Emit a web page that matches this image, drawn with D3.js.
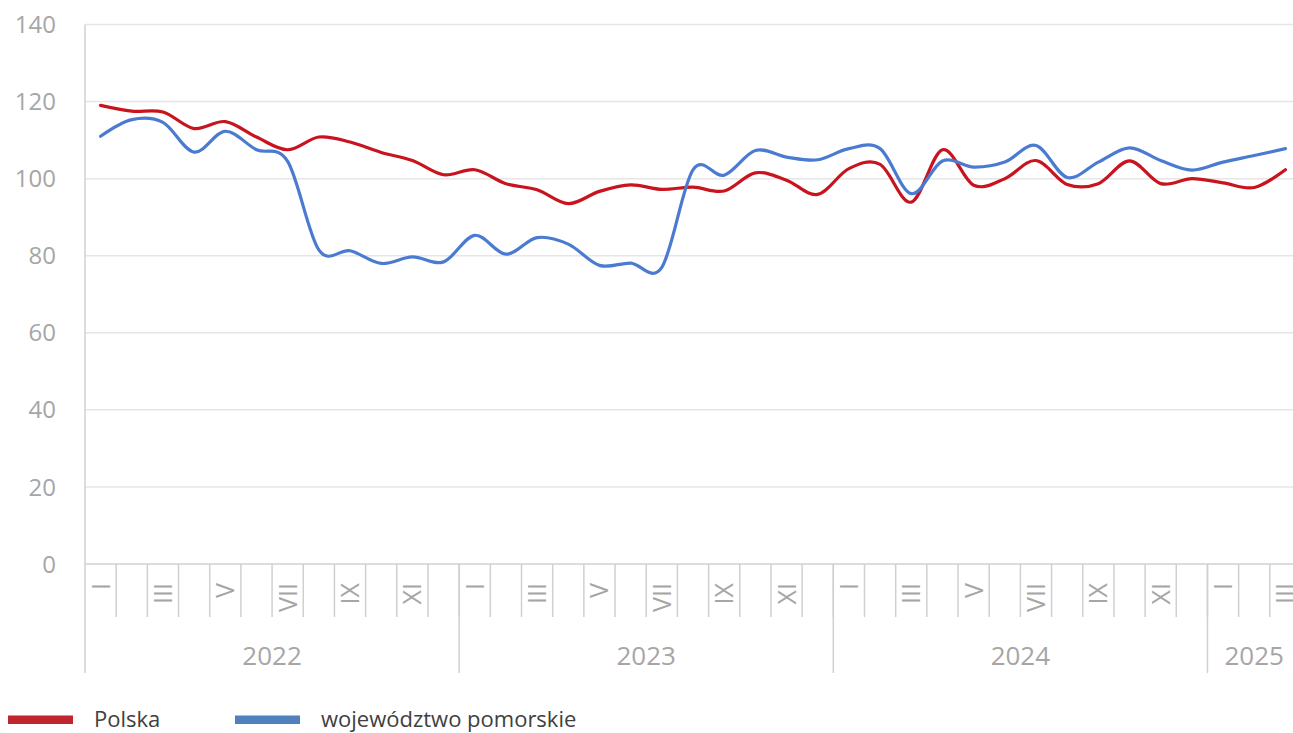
<!DOCTYPE html>
<html>
<head>
<meta charset="utf-8">
<script src="https://cdn.jsdelivr.net/npm/d3@7"></script>
<style>
  html, body { margin: 0; padding: 0; background: #fff; }
  svg { display: block; font-family: "Open Sans", "Noto Sans", sans-serif; }
</style>
</head>
<body>
<svg id="chart" width="1293" height="733"></svg>
<script>
// ---- data ----
const years = ["2022", "2023", "2024", "2025"];
const monthsPerYear = [12, 12, 12, 3];
const monthNames = ["I","II","III","IV","V","VI","VII","VIII","IX","X","XI","XII"];
const yTicks = [0, 20, 40, 60, 80, 100, 120, 140];

const polska = [
  119.0, 117.5, 117.3, 113.0, 114.8, 110.8, 107.5, 110.8, 109.5, 106.8, 104.7, 101.0,
  102.3, 98.7, 97.1, 93.5, 96.7, 98.4, 97.2, 97.8, 96.8, 101.5, 99.6, 95.9,
  102.6, 103.7, 93.9, 107.5, 98.3, 100.0, 104.7, 98.5, 98.7, 104.6, 98.7, 100.0,
  98.9, 97.7, 102.3
];
const pomorskie = [
  111.0, 115.3, 114.6, 106.9, 112.3, 107.5, 104.5, 81.5, 81.3, 78.0, 79.7, 78.4,
  85.3, 80.4, 84.7, 83.0, 77.5, 78.1, 77.0, 102.3, 100.9, 107.3, 105.6, 104.9,
  107.8, 107.8, 96.1, 104.6, 103.0, 104.3, 108.6, 100.3, 104.3, 108.0, 104.7, 102.2,
  104.3, 106.0, 107.8
];
const seriesNames = ["Polska", "województwo pomorskie"];

(function () {
// ---- build categories ----
const cats = [];
years.forEach((yr, yi) => {
  for (let m = 0; m < monthsPerYear[yi]; m++) cats.push({ key: yr + "-" + (m + 1), year: yr, m });
});

const svg = d3.select("#chart");
const W = 1293;
const pLeft = 85, pRight = 1301, pTop = 24.5, pBottom = 564;

const x = d3.scaleBand().domain(cats.map(d => d.key)).range([pLeft, pRight]).padding(0);
const y = d3.scaleLinear().domain([0, 140]).range([pBottom, pTop]);

const gridColor = "#e6e6e6";
const axisColor = "#d0d0d0";
const textColor = "#a6a6a6";

// gridlines
svg.append("g").selectAll("line").data(yTicks.filter(t => t > 0)).join("line")
  .attr("x1", pLeft).attr("x2", W)
  .attr("y1", d => y(d)).attr("y2", d => y(d))
  .attr("stroke", gridColor).attr("stroke-width", 1.5);

// y tick labels
svg.append("g").selectAll("text").data(yTicks).join("text")
  .attr("x", 56).attr("y", d => y(d)).attr("dy", "0.36em")
  .attr("text-anchor", "end")
  .attr("font-size", 24).attr("fill", textColor)
  .text(d => d);

// left axis line
svg.append("line").attr("x1", pLeft).attr("x2", pLeft).attr("y1", pTop).attr("y2", 673)
  .attr("stroke", axisColor).attr("stroke-width", 1.5);

// bottom axis line
svg.append("line").attr("x1", pLeft).attr("x2", W).attr("y1", pBottom).attr("y2", pBottom)
  .attr("stroke", axisColor).attr("stroke-width", 1.5);

// month ticks at band boundaries
const boundaries = cats.map(d => x(d.key) + x.bandwidth());
svg.append("g").selectAll("line").data(boundaries).join("line")
  .attr("x1", d => d).attr("x2", d => d)
  .attr("y1", pBottom).attr("y2", 617)
  .attr("stroke", axisColor).attr("stroke-width", 1.5);

// year separators
const yearStarts = [];
let acc = 0;
years.forEach((yr, yi) => { yearStarts.push({ yr, start: acc, n: monthsPerYear[yi] }); acc += monthsPerYear[yi]; });
svg.append("g").selectAll("line").data(yearStarts.slice(1)).join("line")
  .attr("x1", d => x(cats[d.start].key)).attr("x2", d => x(cats[d.start].key))
  .attr("y1", pBottom).attr("y2", 673)
  .attr("stroke", axisColor).attr("stroke-width", 1.5);

// month labels (odd months), rotated
svg.append("g").selectAll("text").data(cats.filter(d => d.m % 2 === 0)).join("text")
  .attr("transform", d => `translate(${x(d.key) + x.bandwidth() / 2},583) rotate(-90)`)
  .attr("text-anchor", "end").attr("dy", "0.36em")
  .attr("font-size", 25).attr("fill", textColor)
  .text(d => monthNames[d.m]);

// year labels
svg.append("g").selectAll("text").data(yearStarts).join("text")
  .attr("x", d => {
    const x0 = x(cats[d.start].key), x1 = x(cats[d.start + d.n - 1].key) + x.bandwidth();
    return (x0 + x1) / 2;
  })
  .attr("y", 665)
  .attr("text-anchor", "middle")
  .attr("font-size", 26).attr("fill", textColor)
  .text(d => d.yr);

// lines
const line = d3.line()
  .x((d, i) => x(cats[i].key) + x.bandwidth() / 2)
  .y(d => y(d))
  .curve(d3.curveCardinal.tension(0));

const lineColors = ["#c8141e", "#4a7bd0"];
const legendColors = ["#c0262d", "#4f81bd"];
[polska, pomorskie].forEach((s, i) => {
  svg.append("path").datum(s)
    .attr("d", line)
    .attr("fill", "none")
    .attr("stroke", lineColors[i])
    .attr("stroke-width", 3.2)
    .attr("stroke-linejoin", "round").attr("stroke-linecap", "round");
});

// legend
const legendX = [8, 235];
seriesNames.forEach((n, i) => {
  svg.append("rect").attr("x", legendX[i]).attr("y", 715.5).attr("width", 65).attr("height", 8.5)
    .attr("fill", legendColors[i]);
  svg.append("text").attr("x", legendX[i] + 86).attr("y", 727)
    .attr("font-size", 22).attr("fill", "#404040")
    .text(n);
});
})();
</script>
</body>
</html>
